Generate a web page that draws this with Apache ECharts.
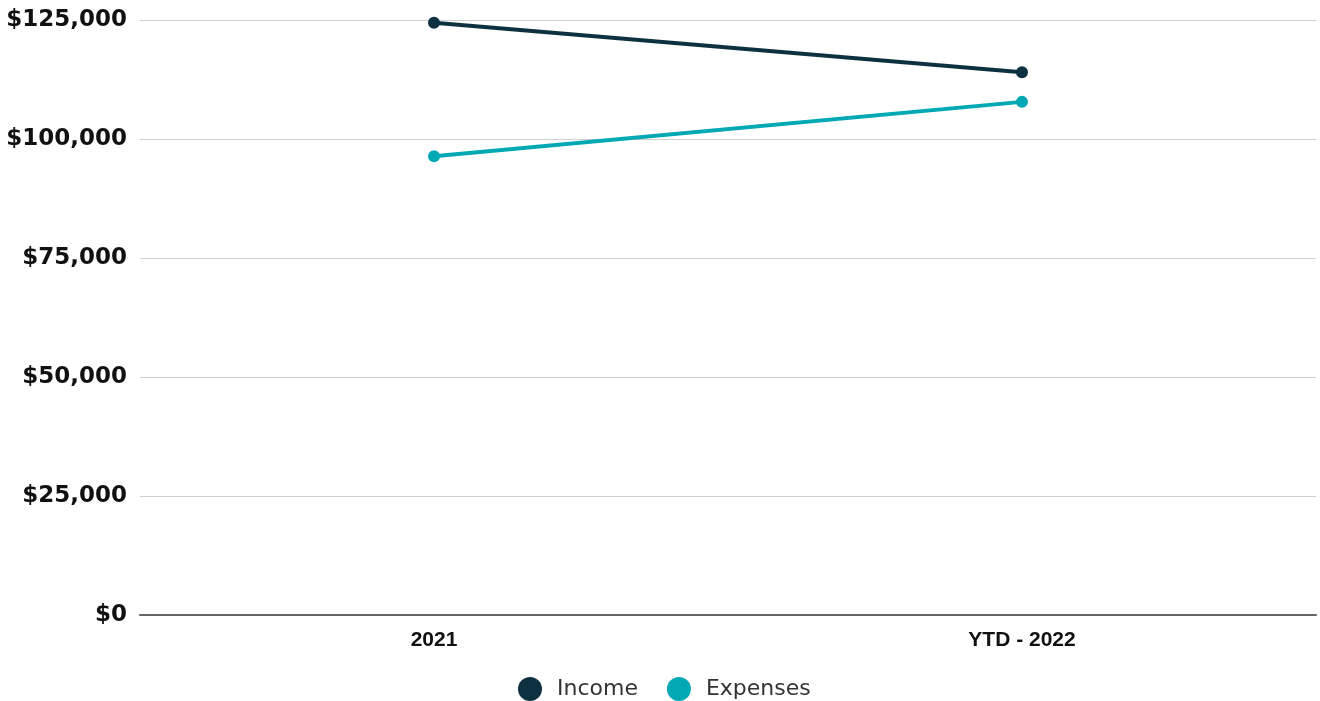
<!DOCTYPE html>
<html>
<head>
<meta charset="utf-8">
<script src="https://cdn.jsdelivr.net/npm/echarts@6/dist/echarts.min.js"></script>
<style>
  html, body { margin: 0; padding: 0; background: #fff; }
  #chart { width: 1320px; height: 701px; }
</style>
</head>
<body>
<div id="chart"></div>
<script>
// Period labels on the x axis
const periods = ['2021', 'YTD - 2022'];
// Totals per period, in dollars
const income = [124400, 114000];
const expenses = [96400, 107800];
// Value axis ticks
const yTicks = [0, 25000, 50000, 75000, 100000, 125000];

const chart = echarts.init(document.getElementById('chart'));

function dollars(v) {
  return '$' + v.toLocaleString('en-US');
}

chart.setOption({
  animation: false,
  grid: { left: 140, right: 4, top: 20, bottom: 86, containLabel: false },
  legend: {
    top: 672,
    left: 513,
    itemWidth: 24,
    itemHeight: 24,
    itemGap: 29,
    icon: 'circle',
    textStyle: {
      fontFamily: 'DejaVu Sans',
      fontSize: 22,
      color: '#333',
      padding: [0, 0, 0, 10]
    },
    data: ['Income', 'Expenses']
  },
  xAxis: {
    type: 'category',
    data: periods,
    boundaryGap: true,
    axisLine: { lineStyle: { color: '#666', width: 2 } },
    axisTick: { show: false },
    axisLabel: {
      fontFamily: 'Liberation Sans',
      fontWeight: 'bold',
      fontSize: 21,
      color: '#111',
      margin: 15
    }
  },
  yAxis: {
    type: 'value',
    min: yTicks[0],
    max: yTicks[yTicks.length - 1],
    interval: 25000,
    axisLine: { show: false },
    axisTick: { show: false },
    splitLine: { lineStyle: { color: '#d0d0d0', width: 1 } },
    axisLabel: {
      formatter: dollars,
      fontFamily: 'DejaVu Sans',
      fontWeight: 'bold',
      fontSize: 23,
      color: '#111',
      margin: 13,
      lineHeight: 30,
      padding: [6, 0, 0, 0]
    }
  },
  series: [
    {
      name: 'Income',
      type: 'line',
      data: income,
      color: '#0e3142',
      symbol: 'circle',
      symbolSize: 12,
      lineStyle: { width: 4, color: '#0e3142' },
      itemStyle: { color: '#0e3142' }
    },
    {
      name: 'Expenses',
      type: 'line',
      data: expenses,
      color: '#02a9b4',
      symbol: 'circle',
      symbolSize: 12,
      lineStyle: { width: 4, color: '#02a9b4' },
      itemStyle: { color: '#02a9b4' }
    }
  ]
});
</script>
</body>
</html>
